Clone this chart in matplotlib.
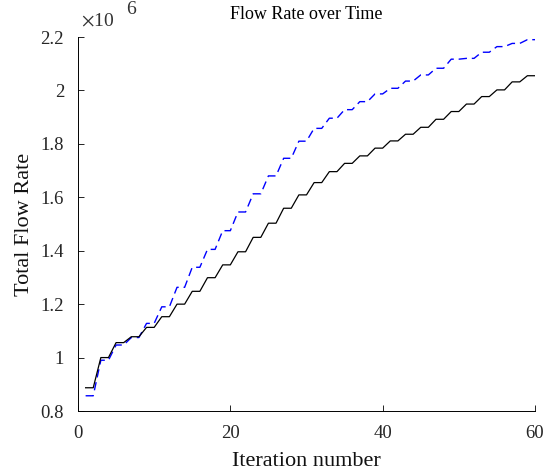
import numpy as np
import matplotlib
matplotlib.use("Agg")
import matplotlib.pyplot as plt

plt.rcParams['font.family'] = ['Liberation Serif', 'DejaVu Serif']
plt.rcParams['mathtext.fontset'] = 'stix'

# iteration numbers 1..60
iterations = list(range(1, 61))

# total flow rate (x 1e6); every value is held for two iterations
flow_solid = [0.887, 0.887, 1.000, 1.000, 1.056, 1.056, 1.078, 1.078, 1.113, 1.113,
              1.153, 1.153, 1.200, 1.200, 1.248, 1.248, 1.299, 1.299, 1.347, 1.347,
              1.396, 1.396, 1.450, 1.450, 1.503, 1.503, 1.559, 1.559, 1.609, 1.609,
              1.655, 1.655, 1.696, 1.696, 1.727, 1.727, 1.755, 1.755, 1.784, 1.784,
              1.811, 1.811, 1.836, 1.836, 1.862, 1.862, 1.892, 1.892, 1.921, 1.921,
              1.949, 1.949, 1.977, 1.977, 2.002, 2.002, 2.032, 2.032, 2.055, 2.055]

flow_dashed = [0.857, 0.857, 0.990, 0.990, 1.047, 1.047, 1.075, 1.075, 1.128, 1.128,
               1.190, 1.190, 1.263, 1.263, 1.338, 1.338, 1.405, 1.405, 1.475, 1.475,
               1.545, 1.545, 1.613, 1.613, 1.680, 1.680, 1.746, 1.746, 1.810, 1.810,
               1.858, 1.858, 1.896, 1.896, 1.928, 1.928, 1.958, 1.958, 1.987, 1.987,
               2.008, 2.008, 2.035, 2.035, 2.058, 2.058, 2.083, 2.083, 2.117, 2.117,
               2.120, 2.120, 2.143, 2.143, 2.164, 2.164, 2.176, 2.176, 2.190, 2.190]

x_ticks = [0, 20, 40, 60]
y_ticks = [0.8, 1.0, 1.2, 1.4, 1.6, 1.8, 2.0, 2.2]
y_tick_labels = ['0.8', '1', '1.2', '1.4', '1.6', '1.8', '2', '2.2']

fig = plt.figure(figsize=(5.45, 4.72), dpi=100)
ax = fig.add_axes([78 / 545, 61 / 472, 457 / 545, 374 / 472])

ax.plot(iterations, flow_dashed, color='#0000ff', lw=1.0, linestyle=(0, (6, 3.5)))
ax.plot(iterations, flow_solid, color='black', lw=0.9)

ax.set_xlim(0, 60)
ax.set_ylim(0.8, 2.2)
ax.set_xticks(x_ticks)
ax.set_yticks(y_ticks)
ax.set_yticklabels(y_tick_labels)
ax.tick_params(direction='in', length=4, width=0.6, labelsize=13.5, pad=10,
               labelcolor='#262626')
ax.spines['top'].set_visible(False)
ax.spines['right'].set_visible(False)
for s in ('left', 'bottom'):
    ax.spines[s].set_linewidth(0.7)

ax.set_xlabel('Iteration number', fontsize=16, labelpad=7, color='#111111')
ax.set_ylabel('Total Flow Rate', fontsize=16, labelpad=5, color='#111111')
ax.set_title('Flow Rate over Time', fontsize=13, pad=13)

ax.text(0.006, 1.02, r'$\times$10', transform=ax.transAxes, fontsize=14,
        ha='left', va='bottom', color='#333333')
ax.text(0.105, 1.05, '6', transform=ax.transAxes, fontsize=14,
        ha='left', va='bottom', color='#333333')

fig.savefig('out.png', dpi=100)
